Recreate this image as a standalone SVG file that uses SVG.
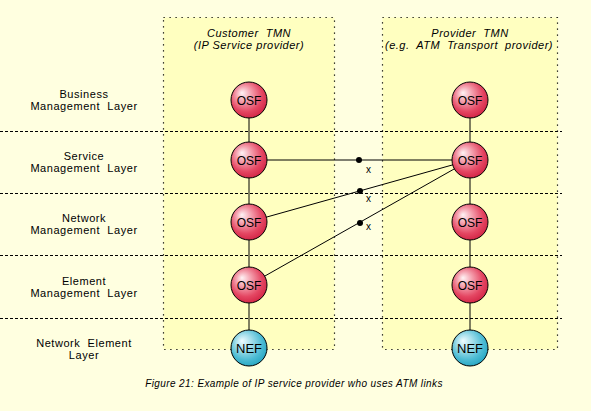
<svg xmlns="http://www.w3.org/2000/svg" width="591" height="411" viewBox="0 0 591 411">
<defs>
<radialGradient id="gOsf" cx="0.45" cy="0.4" r="0.6" fx="0.3" fy="0.3">
<stop offset="0" stop-color="#FFF4F6"/>
<stop offset="0.35" stop-color="#F4A0AE"/>
<stop offset="0.75" stop-color="#E44662"/>
<stop offset="1" stop-color="#D42848"/>
</radialGradient>
<radialGradient id="gNef" cx="0.45" cy="0.4" r="0.6" fx="0.3" fy="0.3">
<stop offset="0" stop-color="#F0FCFF"/>
<stop offset="0.35" stop-color="#A8E0EC"/>
<stop offset="0.75" stop-color="#4EBCD4"/>
<stop offset="1" stop-color="#2AA8C4"/>
</radialGradient>
</defs>
<style>
.bg{fill:#FFFFE0}
.col{fill:#FFFFC0;stroke:#000;stroke-width:1.2;stroke-dasharray:1.2,4.8}
.layer{stroke:#000;stroke-width:1;stroke-dasharray:3,2;fill:none}
.ln{stroke:#000;stroke-width:1;fill:none}
.osf{fill:url(#gOsf);stroke:#000;stroke-width:1}
.nef{fill:url(#gNef);stroke:#000;stroke-width:1}
text{white-space:pre}
.t{font-family:"Liberation Sans",Arial,sans-serif;font-size:11px;letter-spacing:0.55px;fill:#000;text-anchor:middle}
.h{font-family:"Liberation Sans",Arial,sans-serif;font-size:11px;letter-spacing:0.5px;font-style:italic;fill:#000;text-anchor:middle}
.n{font-family:"Liberation Sans",Arial,sans-serif;font-size:12px;fill:#000;text-anchor:middle}
.cap{font-family:"Liberation Sans",Arial,sans-serif;font-size:10px;letter-spacing:0.4px;font-style:italic;fill:#000;text-anchor:middle}
.x{font-family:"Liberation Sans",Arial,sans-serif;font-size:10px;fill:#000}
</style>
<rect class="bg" x="0" y="0" width="591" height="411"/>
<g id="customer-tmn">
<rect class="col" x="163.5" y="17.5" width="171" height="332"/>
<text class="h" x="249" y="37" xml:space="preserve">Customer  TMN</text>
<text class="h" x="249" y="48.5">(IP Service provider)</text>
</g>
<g id="provider-tmn">
<rect class="col" x="382.5" y="17.5" width="175" height="332"/>
<text class="h" x="470" y="37" xml:space="preserve">Provider  TMN</text>
<text class="h" x="469" y="48.5" xml:space="preserve">(e.g.  ATM  Transport  provider)</text>
</g>
<g id="layers">
<line class="layer" x1="0" y1="131.5" x2="562" y2="131.5"/>
<line class="layer" x1="0" y1="193.5" x2="562" y2="193.5"/>
<line class="layer" x1="0" y1="255.5" x2="562" y2="255.5"/>
<line class="layer" x1="0" y1="318.5" x2="562" y2="318.5"/>
<text class="t" x="84" y="97.5">Business</text>
<text class="t" x="84" y="110" xml:space="preserve">Management  Layer</text>
<text class="t" x="84" y="159.5">Service</text>
<text class="t" x="84" y="172" xml:space="preserve">Management  Layer</text>
<text class="t" x="84" y="221.5">Network</text>
<text class="t" x="84" y="234" xml:space="preserve">Management  Layer</text>
<text class="t" x="84" y="284.5">Element</text>
<text class="t" x="84" y="297" xml:space="preserve">Management  Layer</text>
<text class="t" x="84" y="346.5" xml:space="preserve">Network  Element</text>
<text class="t" x="84" y="359">Layer</text>
</g>
<g id="connectors">
<line class="ln" x1="249" y1="100" x2="249" y2="348"/>
<line class="ln" x1="470" y1="100" x2="470" y2="348"/>
<line class="ln" x1="249" y1="160" x2="470" y2="160"/>
<line class="ln" x1="249" y1="222" x2="470" y2="160"/>
<line class="ln" x1="249" y1="285" x2="470" y2="160"/>
<circle cx="359" cy="160" r="3" fill="#000"/>
<circle cx="360" cy="191" r="3" fill="#000"/>
<circle cx="360" cy="223" r="3" fill="#000"/>
<text class="x" x="366" y="173">x</text>
<text class="x" x="366" y="202">x</text>
<text class="x" x="366" y="230">x</text>
</g>
<g id="c-bml-osf"><circle class="osf" cx="249" cy="100" r="18"/><text class="n" x="249" y="104.5">OSF</text></g>
<g id="c-sml-osf"><circle class="osf" cx="249" cy="160" r="18"/><text class="n" x="249" y="164.5">OSF</text></g>
<g id="c-nml-osf"><circle class="osf" cx="249" cy="222" r="18"/><text class="n" x="249" y="226.5">OSF</text></g>
<g id="c-eml-osf"><circle class="osf" cx="249" cy="285" r="18"/><text class="n" x="249" y="289.5">OSF</text></g>
<g id="c-nef"><circle class="nef" cx="249" cy="348" r="18"/><text class="n" x="249" y="352.5" style="font-size:13px">NEF</text></g>
<g id="p-bml-osf"><circle class="osf" cx="470" cy="100" r="18"/><text class="n" x="470" y="104.5">OSF</text></g>
<g id="p-sml-osf"><circle class="osf" cx="470" cy="160" r="18"/><text class="n" x="470" y="164.5">OSF</text></g>
<g id="p-nml-osf"><circle class="osf" cx="470" cy="222" r="18"/><text class="n" x="470" y="226.5">OSF</text></g>
<g id="p-eml-osf"><circle class="osf" cx="470" cy="285" r="18"/><text class="n" x="470" y="289.5">OSF</text></g>
<g id="p-nef"><circle class="nef" cx="470" cy="348" r="18"/><text class="n" x="470" y="352.5" style="font-size:13px">NEF</text></g>
<text class="cap" x="294" y="387">Figure 21: Example of IP service provider who uses ATM links</text>
</svg>
